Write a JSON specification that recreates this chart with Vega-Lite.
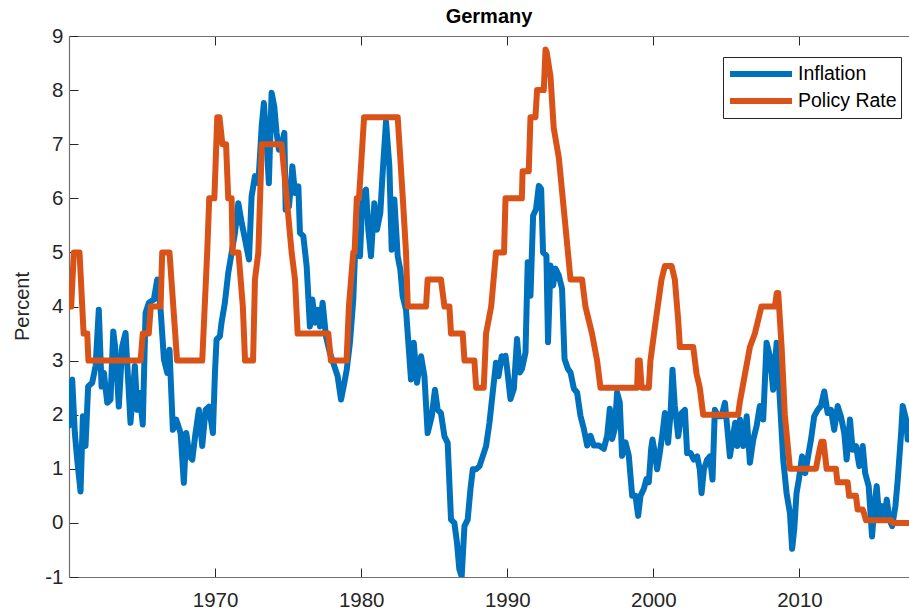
{
  "$schema": "https://vega.github.io/schema/vega-lite/v6.json",
  "width": 840,
  "height": 541,
  "autosize": {"type": "none"},
  "padding": {"left": 69, "top": 36, "right": 0, "bottom": 37},
  "background": "white",
  "title": {"text": "Germany", "fontSize": 20, "fontWeight": "bold", "font": "Liberation Sans", "color": "#000000", "anchor": "middle", "offset": -1},
  "config": {
    "view": {"stroke": null},
    "axis": {"grid": false, "domainColor": "#707070", "domainWidth": 1.2, "tickColor": "#262626", "tickWidth": 1, "labelFont": "Liberation Sans", "labelColor": "#262626", "titleFont": "Liberation Sans", "titleColor": "#262626"}
  },
  "data": {"values": [
    {"series":"Policy Rate","year":1960.0,"value":4.0},
    {"series":"Policy Rate","year":1960.15,"value":4.0},
    {"series":"Policy Rate","year":1960.33,"value":5.0},
    {"series":"Policy Rate","year":1960.72,"value":5.0},
    {"series":"Policy Rate","year":1961.0,"value":3.5},
    {"series":"Policy Rate","year":1961.25,"value":3.5},
    {"series":"Policy Rate","year":1961.33,"value":3.0},
    {"series":"Policy Rate","year":1964.9,"value":3.0},
    {"series":"Policy Rate","year":1965.05,"value":3.5},
    {"series":"Policy Rate","year":1965.46,"value":3.5},
    {"series":"Policy Rate","year":1965.6,"value":4.0},
    {"series":"Policy Rate","year":1966.27,"value":4.0},
    {"series":"Policy Rate","year":1966.38,"value":5.0},
    {"series":"Policy Rate","year":1966.88,"value":5.0},
    {"series":"Policy Rate","year":1967.4,"value":3.0},
    {"series":"Policy Rate","year":1969.12,"value":3.0},
    {"series":"Policy Rate","year":1969.46,"value":5.0},
    {"series":"Policy Rate","year":1969.6,"value":6.0},
    {"series":"Policy Rate","year":1969.95,"value":6.0},
    {"series":"Policy Rate","year":1970.15,"value":7.5},
    {"series":"Policy Rate","year":1970.3,"value":7.5},
    {"series":"Policy Rate","year":1970.5,"value":7.0},
    {"series":"Policy Rate","year":1970.75,"value":7.0},
    {"series":"Policy Rate","year":1970.9,"value":6.0},
    {"series":"Policy Rate","year":1971.13,"value":6.0},
    {"series":"Policy Rate","year":1971.2,"value":5.0},
    {"series":"Policy Rate","year":1971.6,"value":5.0},
    {"series":"Policy Rate","year":1971.9,"value":4.0},
    {"series":"Policy Rate","year":1972.05,"value":3.0},
    {"series":"Policy Rate","year":1972.6,"value":3.0},
    {"series":"Policy Rate","year":1972.73,"value":4.5},
    {"series":"Policy Rate","year":1972.96,"value":5.0},
    {"series":"Policy Rate","year":1973.2,"value":7.0},
    {"series":"Policy Rate","year":1974.55,"value":7.0},
    {"series":"Policy Rate","year":1974.9,"value":6.0},
    {"series":"Policy Rate","year":1975.24,"value":5.0},
    {"series":"Policy Rate","year":1975.47,"value":4.5},
    {"series":"Policy Rate","year":1975.65,"value":3.5},
    {"series":"Policy Rate","year":1977.75,"value":3.5},
    {"series":"Policy Rate","year":1977.93,"value":3.0},
    {"series":"Policy Rate","year":1979.0,"value":3.0},
    {"series":"Policy Rate","year":1979.16,"value":4.0},
    {"series":"Policy Rate","year":1979.46,"value":5.0},
    {"series":"Policy Rate","year":1979.55,"value":5.0},
    {"series":"Policy Rate","year":1979.7,"value":6.0},
    {"series":"Policy Rate","year":1979.85,"value":6.0},
    {"series":"Policy Rate","year":1980.2,"value":7.5},
    {"series":"Policy Rate","year":1982.5,"value":7.5},
    {"series":"Policy Rate","year":1982.85,"value":6.0},
    {"series":"Policy Rate","year":1983.07,"value":5.0},
    {"series":"Policy Rate","year":1983.19,"value":4.0},
    {"series":"Policy Rate","year":1984.44,"value":4.0},
    {"series":"Policy Rate","year":1984.55,"value":4.5},
    {"series":"Policy Rate","year":1985.46,"value":4.5},
    {"series":"Policy Rate","year":1985.7,"value":4.0},
    {"series":"Policy Rate","year":1986.04,"value":4.0},
    {"series":"Policy Rate","year":1986.15,"value":3.5},
    {"series":"Policy Rate","year":1986.95,"value":3.5},
    {"series":"Policy Rate","year":1987.07,"value":3.0},
    {"series":"Policy Rate","year":1987.75,"value":3.0},
    {"series":"Policy Rate","year":1987.87,"value":2.5},
    {"series":"Policy Rate","year":1988.39,"value":2.5},
    {"series":"Policy Rate","year":1988.55,"value":3.5},
    {"series":"Policy Rate","year":1988.9,"value":4.0},
    {"series":"Policy Rate","year":1989.23,"value":5.0},
    {"series":"Policy Rate","year":1989.78,"value":5.0},
    {"series":"Policy Rate","year":1989.88,"value":6.0},
    {"series":"Policy Rate","year":1991.0,"value":6.0},
    {"series":"Policy Rate","year":1991.05,"value":6.5},
    {"series":"Policy Rate","year":1991.47,"value":6.5},
    {"series":"Policy Rate","year":1991.59,"value":7.5},
    {"series":"Policy Rate","year":1991.93,"value":7.5},
    {"series":"Policy Rate","year":1992.04,"value":8.0},
    {"series":"Policy Rate","year":1992.5,"value":8.0},
    {"series":"Policy Rate","year":1992.62,"value":8.75},
    {"series":"Policy Rate","year":1992.7,"value":8.7},
    {"series":"Policy Rate","year":1992.96,"value":8.25},
    {"series":"Policy Rate","year":1993.18,"value":7.3},
    {"series":"Policy Rate","year":1993.53,"value":6.75},
    {"series":"Policy Rate","year":1993.87,"value":5.8},
    {"series":"Policy Rate","year":1994.33,"value":4.5},
    {"series":"Policy Rate","year":1995.12,"value":4.5},
    {"series":"Policy Rate","year":1995.35,"value":4.0},
    {"series":"Policy Rate","year":1995.8,"value":3.5},
    {"series":"Policy Rate","year":1996.15,"value":3.0},
    {"series":"Policy Rate","year":1996.38,"value":2.5},
    {"series":"Policy Rate","year":1998.89,"value":2.5},
    {"series":"Policy Rate","year":1998.95,"value":3.0},
    {"series":"Policy Rate","year":1999.07,"value":3.0},
    {"series":"Policy Rate","year":1999.2,"value":2.5},
    {"series":"Policy Rate","year":1999.69,"value":2.5},
    {"series":"Policy Rate","year":1999.8,"value":3.0},
    {"series":"Policy Rate","year":2000.17,"value":3.75},
    {"series":"Policy Rate","year":2000.56,"value":4.5},
    {"series":"Policy Rate","year":2000.79,"value":4.75},
    {"series":"Policy Rate","year":2001.25,"value":4.75},
    {"series":"Policy Rate","year":2001.47,"value":4.5},
    {"series":"Policy Rate","year":2001.7,"value":3.75},
    {"series":"Policy Rate","year":2001.82,"value":3.25},
    {"series":"Policy Rate","year":2002.73,"value":3.25},
    {"series":"Policy Rate","year":2002.96,"value":2.75},
    {"series":"Policy Rate","year":2003.18,"value":2.5},
    {"series":"Policy Rate","year":2003.41,"value":2.0},
    {"series":"Policy Rate","year":2005.8,"value":2.0},
    {"series":"Policy Rate","year":2005.93,"value":2.25},
    {"series":"Policy Rate","year":2006.27,"value":2.75},
    {"series":"Policy Rate","year":2006.61,"value":3.25},
    {"series":"Policy Rate","year":2006.95,"value":3.5},
    {"series":"Policy Rate","year":2007.4,"value":4.0},
    {"series":"Policy Rate","year":2008.32,"value":4.0},
    {"series":"Policy Rate","year":2008.45,"value":4.25},
    {"series":"Policy Rate","year":2008.55,"value":4.25},
    {"series":"Policy Rate","year":2008.78,"value":3.25},
    {"series":"Policy Rate","year":2009.0,"value":2.0},
    {"series":"Policy Rate","year":2009.35,"value":1.0},
    {"series":"Policy Rate","year":2011.13,"value":1.0},
    {"series":"Policy Rate","year":2011.3,"value":1.25},
    {"series":"Policy Rate","year":2011.5,"value":1.5},
    {"series":"Policy Rate","year":2011.65,"value":1.5},
    {"series":"Policy Rate","year":2011.86,"value":1.0},
    {"series":"Policy Rate","year":2012.5,"value":1.0},
    {"series":"Policy Rate","year":2012.6,"value":0.75},
    {"series":"Policy Rate","year":2013.3,"value":0.75},
    {"series":"Policy Rate","year":2013.4,"value":0.5},
    {"series":"Policy Rate","year":2013.87,"value":0.5},
    {"series":"Policy Rate","year":2013.98,"value":0.25},
    {"series":"Policy Rate","year":2014.33,"value":0.25},
    {"series":"Policy Rate","year":2014.45,"value":0.15},
    {"series":"Policy Rate","year":2014.55,"value":0.05},
    {"series":"Policy Rate","year":2016.27,"value":0.05},
    {"series":"Policy Rate","year":2016.39,"value":0.0},
    {"series":"Policy Rate","year":2017.5,"value":0.0},
    {"series":"Inflation","year":1960.0,"value":1.8},
    {"series":"Inflation","year":1960.1,"value":2.6},
    {"series":"Inflation","year":1960.22,"value":2.65},
    {"series":"Inflation","year":1960.4,"value":1.66},
    {"series":"Inflation","year":1960.56,"value":1.17},
    {"series":"Inflation","year":1960.79,"value":0.58},
    {"series":"Inflation","year":1960.95,"value":1.97},
    {"series":"Inflation","year":1961.13,"value":1.42},
    {"series":"Inflation","year":1961.31,"value":2.52},
    {"series":"Inflation","year":1961.59,"value":2.59},
    {"series":"Inflation","year":1961.82,"value":2.9},
    {"series":"Inflation","year":1962.04,"value":3.94},
    {"series":"Inflation","year":1962.23,"value":2.52},
    {"series":"Inflation","year":1962.39,"value":2.77},
    {"series":"Inflation","year":1962.62,"value":2.22},
    {"series":"Inflation","year":1962.84,"value":2.28},
    {"series":"Inflation","year":1963.03,"value":3.54},
    {"series":"Inflation","year":1963.18,"value":3.2},
    {"series":"Inflation","year":1963.41,"value":2.15},
    {"series":"Inflation","year":1963.64,"value":3.26},
    {"series":"Inflation","year":1963.87,"value":3.51},
    {"series":"Inflation","year":1964.21,"value":1.85},
    {"series":"Inflation","year":1964.51,"value":2.9},
    {"series":"Inflation","year":1964.67,"value":2.09},
    {"series":"Inflation","year":1964.83,"value":2.4},
    {"series":"Inflation","year":1965.05,"value":1.82},
    {"series":"Inflation","year":1965.24,"value":3.88},
    {"series":"Inflation","year":1965.47,"value":4.07},
    {"series":"Inflation","year":1965.81,"value":4.13},
    {"series":"Inflation","year":1966.04,"value":4.5},
    {"series":"Inflation","year":1966.27,"value":3.94},
    {"series":"Inflation","year":1966.5,"value":3.02},
    {"series":"Inflation","year":1966.73,"value":2.77},
    {"series":"Inflation","year":1966.88,"value":3.2},
    {"series":"Inflation","year":1967.11,"value":1.72},
    {"series":"Inflation","year":1967.34,"value":1.91},
    {"series":"Inflation","year":1967.64,"value":1.66},
    {"series":"Inflation","year":1967.86,"value":0.74},
    {"series":"Inflation","year":1968.03,"value":1.66},
    {"series":"Inflation","year":1968.25,"value":1.23},
    {"series":"Inflation","year":1968.44,"value":1.17},
    {"series":"Inflation","year":1968.66,"value":1.66},
    {"series":"Inflation","year":1968.89,"value":2.09},
    {"series":"Inflation","year":1969.12,"value":1.42},
    {"series":"Inflation","year":1969.35,"value":2.09},
    {"series":"Inflation","year":1969.58,"value":2.15},
    {"series":"Inflation","year":1969.85,"value":1.66},
    {"series":"Inflation","year":1969.99,"value":2.77},
    {"series":"Inflation","year":1970.1,"value":3.39},
    {"series":"Inflation","year":1970.33,"value":3.45},
    {"series":"Inflation","year":1970.44,"value":3.7},
    {"series":"Inflation","year":1970.67,"value":4.07},
    {"series":"Inflation","year":1970.9,"value":4.62},
    {"series":"Inflation","year":1971.13,"value":4.99},
    {"series":"Inflation","year":1971.36,"value":5.36},
    {"series":"Inflation","year":1971.59,"value":5.91},
    {"series":"Inflation","year":1971.82,"value":5.55},
    {"series":"Inflation","year":1972.05,"value":5.24},
    {"series":"Inflation","year":1972.32,"value":4.87},
    {"series":"Inflation","year":1972.5,"value":6.04},
    {"series":"Inflation","year":1972.73,"value":6.41},
    {"series":"Inflation","year":1972.96,"value":6.28},
    {"series":"Inflation","year":1973.19,"value":7.33},
    {"series":"Inflation","year":1973.34,"value":7.76},
    {"series":"Inflation","year":1973.53,"value":7.02},
    {"series":"Inflation","year":1973.68,"value":6.28},
    {"series":"Inflation","year":1973.87,"value":7.95},
    {"series":"Inflation","year":1974.05,"value":7.7},
    {"series":"Inflation","year":1974.21,"value":7.21},
    {"series":"Inflation","year":1974.37,"value":6.9},
    {"series":"Inflation","year":1974.55,"value":6.96},
    {"series":"Inflation","year":1974.74,"value":7.21},
    {"series":"Inflation","year":1974.83,"value":5.79},
    {"series":"Inflation","year":1975.06,"value":5.85},
    {"series":"Inflation","year":1975.29,"value":6.59},
    {"series":"Inflation","year":1975.47,"value":6.1},
    {"series":"Inflation","year":1975.7,"value":6.22},
    {"series":"Inflation","year":1975.81,"value":5.36},
    {"series":"Inflation","year":1976.04,"value":5.3},
    {"series":"Inflation","year":1976.27,"value":4.74},
    {"series":"Inflation","year":1976.49,"value":3.63},
    {"series":"Inflation","year":1976.66,"value":4.13},
    {"series":"Inflation","year":1976.84,"value":3.7},
    {"series":"Inflation","year":1977.02,"value":3.94},
    {"series":"Inflation","year":1977.18,"value":3.63},
    {"series":"Inflation","year":1977.36,"value":4.07},
    {"series":"Inflation","year":1977.59,"value":3.45},
    {"series":"Inflation","year":1977.86,"value":3.14},
    {"series":"Inflation","year":1978.16,"value":2.9},
    {"series":"Inflation","year":1978.39,"value":2.71},
    {"series":"Inflation","year":1978.62,"value":2.28},
    {"series":"Inflation","year":1978.85,"value":2.59},
    {"series":"Inflation","year":1979.01,"value":2.83},
    {"series":"Inflation","year":1979.23,"value":3.33},
    {"series":"Inflation","year":1979.46,"value":4.13},
    {"series":"Inflation","year":1979.58,"value":4.99},
    {"series":"Inflation","year":1979.81,"value":5.11},
    {"series":"Inflation","year":1979.92,"value":4.93},
    {"series":"Inflation","year":1980.1,"value":6.1},
    {"series":"Inflation","year":1980.33,"value":6.16},
    {"series":"Inflation","year":1980.49,"value":5.42},
    {"series":"Inflation","year":1980.67,"value":4.93},
    {"series":"Inflation","year":1980.9,"value":5.91},
    {"series":"Inflation","year":1981.08,"value":5.42},
    {"series":"Inflation","year":1981.31,"value":5.73},
    {"series":"Inflation","year":1981.47,"value":6.47},
    {"series":"Inflation","year":1981.7,"value":7.42},
    {"series":"Inflation","year":1981.93,"value":6.59},
    {"series":"Inflation","year":1982.09,"value":5.05},
    {"series":"Inflation","year":1982.27,"value":5.98},
    {"series":"Inflation","year":1982.5,"value":4.93},
    {"series":"Inflation","year":1982.68,"value":4.68},
    {"series":"Inflation","year":1982.84,"value":4.19},
    {"series":"Inflation","year":1983.07,"value":3.94},
    {"series":"Inflation","year":1983.23,"value":3.33},
    {"series":"Inflation","year":1983.41,"value":2.65},
    {"series":"Inflation","year":1983.6,"value":3.33},
    {"series":"Inflation","year":1983.82,"value":2.59},
    {"series":"Inflation","year":1984.1,"value":3.08},
    {"series":"Inflation","year":1984.33,"value":2.71},
    {"series":"Inflation","year":1984.55,"value":1.66},
    {"series":"Inflation","year":1984.83,"value":1.97},
    {"series":"Inflation","year":1985.05,"value":2.46},
    {"series":"Inflation","year":1985.24,"value":2.09},
    {"series":"Inflation","year":1985.46,"value":2.03},
    {"series":"Inflation","year":1985.7,"value":1.6},
    {"series":"Inflation","year":1985.92,"value":1.48},
    {"series":"Inflation","year":1986.15,"value":0.06},
    {"series":"Inflation","year":1986.38,"value":0.0},
    {"series":"Inflation","year":1986.56,"value":-0.37},
    {"series":"Inflation","year":1986.72,"value":-0.86},
    {"series":"Inflation","year":1986.88,"value":-0.99},
    {"series":"Inflation","year":1987.07,"value":-0.06},
    {"series":"Inflation","year":1987.29,"value":0.06},
    {"series":"Inflation","year":1987.48,"value":0.62},
    {"series":"Inflation","year":1987.64,"value":0.99},
    {"series":"Inflation","year":1987.86,"value":0.99},
    {"series":"Inflation","year":1988.1,"value":1.05},
    {"series":"Inflation","year":1988.32,"value":1.23},
    {"series":"Inflation","year":1988.55,"value":1.42},
    {"series":"Inflation","year":1988.78,"value":1.85},
    {"series":"Inflation","year":1989.0,"value":2.4},
    {"series":"Inflation","year":1989.23,"value":2.96},
    {"series":"Inflation","year":1989.4,"value":2.71},
    {"series":"Inflation","year":1989.62,"value":3.08},
    {"series":"Inflation","year":1989.8,"value":2.96},
    {"series":"Inflation","year":1989.88,"value":3.09},
    {"series":"Inflation","year":1989.99,"value":2.85},
    {"series":"Inflation","year":1990.22,"value":2.29},
    {"series":"Inflation","year":1990.45,"value":2.48},
    {"series":"Inflation","year":1990.67,"value":3.4},
    {"series":"Inflation","year":1990.86,"value":2.78},
    {"series":"Inflation","year":1991.01,"value":2.85},
    {"series":"Inflation","year":1991.25,"value":3.15},
    {"series":"Inflation","year":1991.4,"value":4.82},
    {"series":"Inflation","year":1991.59,"value":4.2},
    {"series":"Inflation","year":1991.77,"value":5.68},
    {"series":"Inflation","year":1991.97,"value":5.8},
    {"series":"Inflation","year":1992.16,"value":6.23},
    {"series":"Inflation","year":1992.32,"value":6.17},
    {"series":"Inflation","year":1992.45,"value":5.0},
    {"series":"Inflation","year":1992.68,"value":4.94},
    {"series":"Inflation","year":1992.79,"value":3.34},
    {"series":"Inflation","year":1992.96,"value":4.76},
    {"series":"Inflation","year":1993.14,"value":4.39},
    {"series":"Inflation","year":1993.3,"value":4.7},
    {"series":"Inflation","year":1993.53,"value":4.57},
    {"series":"Inflation","year":1993.75,"value":4.33},
    {"series":"Inflation","year":1993.92,"value":3.03},
    {"series":"Inflation","year":1994.15,"value":2.85},
    {"series":"Inflation","year":1994.33,"value":2.78},
    {"series":"Inflation","year":1994.56,"value":2.48},
    {"series":"Inflation","year":1994.78,"value":2.41},
    {"series":"Inflation","year":1995.01,"value":1.98},
    {"series":"Inflation","year":1995.24,"value":1.74},
    {"series":"Inflation","year":1995.47,"value":1.43},
    {"series":"Inflation","year":1995.7,"value":1.61},
    {"series":"Inflation","year":1995.92,"value":1.43},
    {"series":"Inflation","year":1996.27,"value":1.43},
    {"series":"Inflation","year":1996.61,"value":1.37},
    {"series":"Inflation","year":1996.84,"value":1.61},
    {"series":"Inflation","year":1997.02,"value":2.11},
    {"series":"Inflation","year":1997.18,"value":1.55},
    {"series":"Inflation","year":1997.36,"value":1.74},
    {"series":"Inflation","year":1997.52,"value":2.41},
    {"series":"Inflation","year":1997.7,"value":2.23},
    {"series":"Inflation","year":1997.86,"value":1.24},
    {"series":"Inflation","year":1998.09,"value":1.49},
    {"series":"Inflation","year":1998.32,"value":1.24},
    {"series":"Inflation","year":1998.55,"value":0.5},
    {"series":"Inflation","year":1998.78,"value":0.5},
    {"series":"Inflation","year":1998.96,"value":0.13},
    {"series":"Inflation","year":1999.12,"value":0.5},
    {"series":"Inflation","year":1999.35,"value":0.63},
    {"series":"Inflation","year":1999.53,"value":0.81},
    {"series":"Inflation","year":1999.69,"value":0.75},
    {"series":"Inflation","year":1999.85,"value":1.37},
    {"series":"Inflation","year":1999.94,"value":1.54},
    {"series":"Inflation","year":2000.1,"value":1.29},
    {"series":"Inflation","year":2000.26,"value":0.99},
    {"series":"Inflation","year":2000.44,"value":1.29},
    {"series":"Inflation","year":2000.63,"value":1.66},
    {"series":"Inflation","year":2000.79,"value":2.03},
    {"series":"Inflation","year":2001.01,"value":1.48},
    {"series":"Inflation","year":2001.18,"value":2.03},
    {"series":"Inflation","year":2001.31,"value":2.83},
    {"series":"Inflation","year":2001.47,"value":2.16},
    {"series":"Inflation","year":2001.7,"value":1.6},
    {"series":"Inflation","year":2001.93,"value":2.03},
    {"series":"Inflation","year":2002.16,"value":2.09},
    {"series":"Inflation","year":2002.31,"value":1.29},
    {"series":"Inflation","year":2002.55,"value":1.29},
    {"series":"Inflation","year":2002.77,"value":1.17},
    {"series":"Inflation","year":2003.0,"value":1.23},
    {"series":"Inflation","year":2003.18,"value":0.99},
    {"series":"Inflation","year":2003.3,"value":0.55},
    {"series":"Inflation","year":2003.46,"value":0.99},
    {"series":"Inflation","year":2003.68,"value":1.17},
    {"series":"Inflation","year":2003.87,"value":1.23},
    {"series":"Inflation","year":2004.05,"value":0.8},
    {"series":"Inflation","year":2004.21,"value":2.09},
    {"series":"Inflation","year":2004.44,"value":1.97},
    {"series":"Inflation","year":2004.67,"value":1.97},
    {"series":"Inflation","year":2004.9,"value":2.22},
    {"series":"Inflation","year":2005.05,"value":1.79},
    {"series":"Inflation","year":2005.24,"value":1.23},
    {"series":"Inflation","year":2005.42,"value":1.54},
    {"series":"Inflation","year":2005.6,"value":1.85},
    {"series":"Inflation","year":2005.74,"value":1.42},
    {"series":"Inflation","year":2005.93,"value":1.91},
    {"series":"Inflation","year":2006.15,"value":1.42},
    {"series":"Inflation","year":2006.39,"value":1.97},
    {"series":"Inflation","year":2006.61,"value":1.11},
    {"series":"Inflation","year":2006.84,"value":1.54},
    {"series":"Inflation","year":2007.07,"value":1.79},
    {"series":"Inflation","year":2007.29,"value":2.16},
    {"series":"Inflation","year":2007.52,"value":1.91},
    {"series":"Inflation","year":2007.75,"value":3.33},
    {"series":"Inflation","year":2007.98,"value":3.08},
    {"series":"Inflation","year":2008.2,"value":2.46},
    {"series":"Inflation","year":2008.44,"value":3.33},
    {"series":"Inflation","year":2008.66,"value":2.28},
    {"series":"Inflation","year":2008.89,"value":1.17},
    {"series":"Inflation","year":2009.12,"value":0.55},
    {"series":"Inflation","year":2009.35,"value":0.18},
    {"series":"Inflation","year":2009.5,"value":-0.48},
    {"series":"Inflation","year":2009.65,"value":-0.1},
    {"series":"Inflation","year":2009.8,"value":0.55},
    {"series":"Inflation","year":2009.96,"value":0.8},
    {"series":"Inflation","year":2010.18,"value":1.23},
    {"series":"Inflation","year":2010.4,"value":0.92},
    {"series":"Inflation","year":2010.63,"value":1.29},
    {"series":"Inflation","year":2010.79,"value":1.54},
    {"series":"Inflation","year":2011.01,"value":1.97},
    {"series":"Inflation","year":2011.25,"value":2.09},
    {"series":"Inflation","year":2011.47,"value":2.16},
    {"series":"Inflation","year":2011.7,"value":2.43},
    {"series":"Inflation","year":2011.93,"value":2.03},
    {"series":"Inflation","year":2012.16,"value":2.09},
    {"series":"Inflation","year":2012.38,"value":1.72},
    {"series":"Inflation","year":2012.62,"value":2.16},
    {"series":"Inflation","year":2012.84,"value":1.97},
    {"series":"Inflation","year":2013.07,"value":1.66},
    {"series":"Inflation","year":2013.23,"value":1.17},
    {"series":"Inflation","year":2013.46,"value":1.91},
    {"series":"Inflation","year":2013.64,"value":1.35},
    {"series":"Inflation","year":2013.87,"value":1.42},
    {"series":"Inflation","year":2014.1,"value":1.05},
    {"series":"Inflation","year":2014.33,"value":1.42},
    {"series":"Inflation","year":2014.5,"value":0.92},
    {"series":"Inflation","year":2014.74,"value":0.68},
    {"series":"Inflation","year":2014.97,"value":-0.25},
    {"series":"Inflation","year":2015.13,"value":0.31},
    {"series":"Inflation","year":2015.29,"value":0.68},
    {"series":"Inflation","year":2015.47,"value":0.06},
    {"series":"Inflation","year":2015.66,"value":0.31},
    {"series":"Inflation","year":2015.82,"value":0.12},
    {"series":"Inflation","year":2015.98,"value":0.43},
    {"series":"Inflation","year":2016.16,"value":0.06},
    {"series":"Inflation","year":2016.35,"value":-0.06},
    {"series":"Inflation","year":2016.57,"value":0.31},
    {"series":"Inflation","year":2016.73,"value":0.8},
    {"series":"Inflation","year":2016.96,"value":1.66},
    {"series":"Inflation","year":2017.07,"value":2.16},
    {"series":"Inflation","year":2017.3,"value":1.91},
    {"series":"Inflation","year":2017.41,"value":1.54}
  ]},
  "layer": [
    {
      "transform": [{"filter": "datum.series === 'Inflation'"}],
      "mark": {"type": "line", "strokeWidth": 6, "strokeJoin": "round", "strokeCap": "round", "clip": true},
      "encoding": {
        "x": {"field": "year", "type": "quantitative", "scale": {"domain": [1960, 2017.5], "nice": false, "zero": false},
              "axis": {"orient": "bottom", "values": [1970, 1980, 1990, 2000, 2010], "format": "d", "tickSize": -9, "labelPadding": 22, "labelFontSize": 20.5, "title": null}},
        "y": {"field": "value", "type": "quantitative", "scale": {"domain": [-1, 9], "nice": false, "zero": false},
              "axis": {"values": [-1, 0, 1, 2, 3, 4, 5, 6, 7, 8, 9], "labelExpr": "'' + datum.value", "tickSize": -9, "labelPadding": 15, "labelFontSize": 20.5, "title": "Percent", "titleFontSize": 20, "titleFontWeight": "normal", "titleX": -47, "titleY": 270, "titleBaseline": "middle"}},
        "color": {"field": "series", "type": "nominal", "scale": {"domain": ["Inflation", "Policy Rate"], "range": ["#0072BD", "#D95319"]},
                  "legend": {"orient": "none", "legendX": 654, "legendY": 21, "title": null, "symbolType": "stroke", "symbolSize": 3844, "symbolStrokeWidth": 6, "clipHeight": 26, "rowPadding": 1, "labelFontSize": 19.5, "labelFont": "Liberation Sans", "labelColor": "#000000", "labelOffset": 3, "padding": 4, "strokeColor": "#262626", "fillColor": "#ffffff"}}
      }
    },
    {
      "transform": [{"filter": "datum.series === 'Policy Rate'"}],
      "mark": {"type": "line", "strokeWidth": 6, "strokeJoin": "round", "strokeCap": "round", "clip": true},
      "encoding": {
        "x": {"field": "year", "type": "quantitative", "axis": {"orient": "top", "values": [1970, 1980, 1990, 2000, 2010], "tickSize": -9, "labels": false, "title": null}},
        "y": {"field": "value", "type": "quantitative"},
        "color": {"field": "series", "type": "nominal"}
      }
    }
  ],
  "resolve": {"axis": {"x": "independent"}}
}
